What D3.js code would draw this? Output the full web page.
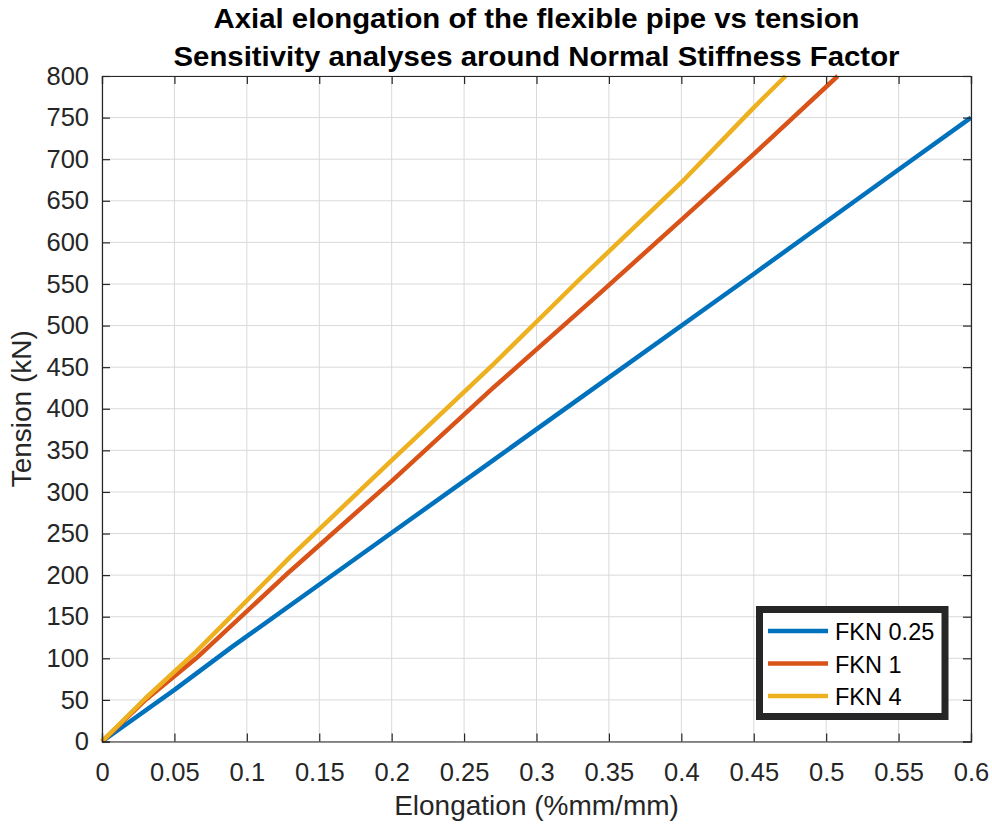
<!DOCTYPE html>
<html>
<head>
<meta charset="utf-8">
<script src="https://cdn.jsdelivr.net/npm/d3@7"></script>
<style>
  html, body { margin: 0; padding: 0; background: #ffffff; }
  svg { display: block; }
</style>
</head>
<body>
<svg id="chart" width="992" height="828"></svg>
<script>
// Elongation (%mm/mm) vs tension (kN) for three normal stiffness factors
const elongationFkn025 = [0, 0.05, 0.09, 0.18, 0.27, 0.36, 0.45, 0.54, 0.6];
const tensionFkn025    = [0, 62, 114, 226, 338, 450, 562, 675, 750];

const elongationFkn1 = [0, 0.03, 0.065, 0.13, 0.2, 0.27, 0.34, 0.4, 0.45, 0.508];
const tensionFkn1    = [0, 50, 100, 205, 313, 425, 533, 627, 706, 800];

const elongationFkn4 = [0, 0.03, 0.065, 0.13, 0.2, 0.27, 0.33, 0.4, 0.45, 0.472];
const tensionFkn4    = [0, 52, 108, 222, 338, 453, 556, 672, 762, 800];

const seriesNames  = ["FKN 0.25", "FKN 1", "FKN 4"];
const seriesColors = ["#0072BD", "#D95319", "#EDB120"];

const xTicks = [0, 0.05, 0.1, 0.15, 0.2, 0.25, 0.3, 0.35, 0.4, 0.45, 0.5, 0.55, 0.6];
const yTicks = [0, 50, 100, 150, 200, 250, 300, 350, 400, 450, 500, 550, 600, 650, 700, 750, 800];

const titleLines = [
  "Axial elongation of the flexible pipe vs tension",
  "Sensitivity analyses around Normal Stiffness Factor"
];
const xLabel = "Elongation (%mm/mm)";
const yLabel = "Tension (kN)";

const series = [
  { name: seriesNames[0], color: seriesColors[0], xs: elongationFkn025, ys: tensionFkn025 },
  { name: seriesNames[1], color: seriesColors[1], xs: elongationFkn1,   ys: tensionFkn1 },
  { name: seriesNames[2], color: seriesColors[2], xs: elongationFkn4,   ys: tensionFkn4 }
];

const svg = d3.select("#chart");
const margin = { left: 102, right: 21, top: 76, bottom: 86.5 };
const W = 992, H = 828;
const iw = W - margin.left - margin.right;
const ih = H - margin.top - margin.bottom;

const x = d3.scaleLinear().domain([0, 0.6]).range([margin.left, margin.left + iw]);
const y = d3.scaleLinear().domain([0, 800]).range([margin.top + ih, margin.top]);

const axisColor = "#262626";
const fontFamily = "'Liberation Sans', Arial, Helvetica, sans-serif";

// grid
const grid = svg.append("g");
grid.selectAll("line.gx").data(xTicks).join("line")
  .attr("x1", d => x(d)).attr("x2", d => x(d))
  .attr("y1", margin.top).attr("y2", margin.top + ih)
  .attr("stroke", "#d9d9d9").attr("stroke-width", 1);
grid.selectAll("line.gy").data(yTicks).join("line")
  .attr("y1", d => y(d)).attr("y2", d => y(d))
  .attr("x1", margin.left).attr("x2", margin.left + iw)
  .attr("stroke", "#d9d9d9").attr("stroke-width", 1);

// series lines
const line = d3.line().x(d => x(d[0])).y(d => y(d[1]));
const plot = svg.append("g");
series.forEach(s => {
  const pts = s.xs.map((v, i) => [v, s.ys[i]]);
  plot.append("path")
    .attr("d", line(pts))
    .attr("fill", "none")
    .attr("stroke", s.color)
    .attr("stroke-width", 4.5)
    .attr("stroke-linejoin", "round")
    .attr("stroke-linecap", "butt");
});

// axes: ticks pointing inward on all four sides
const tickLen = 8;
const xAxisB = d3.axisBottom(x).tickValues(xTicks).tickSize(-tickLen).tickPadding(21)
  .tickFormat(d => d3.format("")(+d.toFixed(2)));
const yAxisL = d3.axisLeft(y).tickValues(yTicks).tickSize(-tickLen).tickPadding(13);

const gx = svg.append("g").attr("transform", `translate(0,${margin.top + ih})`).call(xAxisB);
const gy = svg.append("g").attr("transform", `translate(${margin.left},0)`).call(yAxisL);
const gxt = svg.append("g").attr("transform", `translate(0,${margin.top})`)
  .call(d3.axisTop(x).tickValues(xTicks).tickSize(-tickLen).tickFormat(""));
const gyr = svg.append("g").attr("transform", `translate(${margin.left + iw},0)`)
  .call(d3.axisRight(y).tickValues(yTicks).tickSize(-tickLen).tickFormat(""));

[gx, gy, gxt, gyr].forEach(g => {
  g.selectAll("path.domain").attr("stroke", axisColor).attr("stroke-width", 1.2);
  g.selectAll(".tick line").attr("stroke", axisColor).attr("stroke-width", 1.2);
  g.selectAll(".tick text").attr("fill", axisColor)
    .style("font-family", fontFamily).style("font-size", "25.5px");
});

// axis titles
svg.append("text")
  .attr("x", margin.left + iw / 2).attr("y", 815)
  .attr("text-anchor", "middle").attr("fill", axisColor)
  .style("font-family", fontFamily).style("font-size", "28px")
  .text(xLabel);
svg.append("text")
  .attr("transform", `translate(31,${margin.top + ih / 2}) rotate(-90)`)
  .attr("text-anchor", "middle").attr("fill", axisColor)
  .style("font-family", fontFamily).style("font-size", "28px")
  .text(yLabel);

// two-line bold title
const titleWidths = [646, 726];
titleLines.forEach((t, i) => {
  svg.append("text")
    .attr("x", margin.left + iw / 2).attr("y", 28 + i * 38)
    .attr("text-anchor", "middle").attr("fill", "#000")
    .attr("textLength", titleWidths[i]).attr("lengthAdjust", "spacingAndGlyphs")
    .style("font-family", fontFamily).style("font-size", "27px").style("font-weight", "bold")
    .text(t);
});

// legend
const lg = svg.append("g");
lg.append("rect")
  .attr("x", 759.5).attr("y", 609.5).attr("width", 185.5).attr("height", 107)
  .attr("fill", "#fff").attr("stroke", axisColor).attr("stroke-width", 7);
series.forEach((s, i) => {
  const yy = 631 + i * 32.5;
  lg.append("line")
    .attr("x1", 768).attr("x2", 828).attr("y1", yy).attr("y2", yy)
    .attr("stroke", s.color).attr("stroke-width", 4.5);
  lg.append("text")
    .attr("x", 835).attr("y", yy + 1).attr("dy", "0.36em")
    .attr("fill", "#000")
    .style("font-family", fontFamily).style("font-size", "23.5px")
    .text(s.name);
});
</script>
</body>
</html>
